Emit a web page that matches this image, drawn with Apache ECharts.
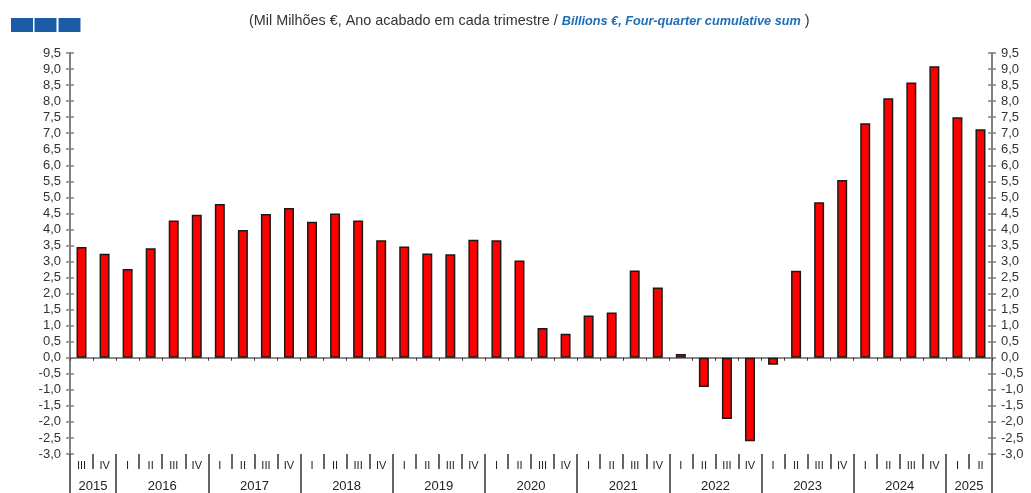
<!DOCTYPE html>
<html>
<head>
<meta charset="utf-8">
<script src="https://cdn.jsdelivr.net/npm/echarts@6/dist/echarts.min.js"></script>
<style>
  html, body { margin: 0; padding: 0; background: #fff; }
  #chart { width: 1031px; height: 493px; }
</style>
</head>
<body>
<div id="chart"></div>
<script>
// quarters from 2015 III to 2025 II
const quarters = [
  'III', 'IV',
  'I', 'II', 'III', 'IV',
  'I', 'II', 'III', 'IV',
  'I', 'II', 'III', 'IV',
  'I', 'II', 'III', 'IV',
  'I', 'II', 'III', 'IV',
  'I', 'II', 'III', 'IV',
  'I', 'II', 'III', 'IV',
  'I', 'II', 'III', 'IV',
  'I', 'II', 'III', 'IV',
  'I', 'II',
];
const years = ['2015', '2016', '2017', '2018', '2019', '2020', '2021', '2022', '2023', '2024', '2025'];
const quartersPerYear = [2, 4, 4, 4, 4, 4, 4, 4, 4, 4, 2];

// mil milhões €, soma de quatro trimestres
const values = [
  3.45, 3.24,
  2.77, 3.41, 4.28, 4.46,
  4.79, 3.98, 4.48, 4.67,
  4.24, 4.50, 4.28, 3.66,
  3.47, 3.25, 3.23, 3.68,
  3.66, 3.03, 0.93, 0.75,
  1.32, 1.41, 2.72, 2.19,
  0.12, -0.91, -1.91, -2.60,
  -0.22, 2.71, 4.85, 5.54,
  7.31, 8.09, 8.58, 9.09,
  7.50, 7.12,
];

// year axis uses quarter boundaries (41 points); label sits on the middle boundary of each year
const yearBoundaries = [0];
const yearAxisData = new Array(quarters.length + 1).fill('');
let pos = 0;
years.forEach((y, i) => {
  yearAxisData[pos + quartersPerYear[i] / 2] = y;
  pos += quartersPerYear[i];
  yearBoundaries.push(pos);
});

const axisGray = '#808080';
const font = 'Liberation Sans, Arial, sans-serif';
const fmt = (v) => v.toFixed(1).replace('.', ',');

const yBase = { type: 'value', min: -3, max: 9.5, interval: 0.5, splitLine: { show: false } };

const chart = echarts.init(document.getElementById('chart'));
chart.setOption({
  animation: false,
  title: {
    left: 244,
    top: 9,
    text: '{a|(Mil Milhões €, Ano acabado em cada trimestre / }{b|Billions €, Four-quarter cumulative sum}{a| )}',
    textStyle: {
      fontWeight: 'normal',
      rich: {
        a: { fontFamily: font, fontSize: 14.4, fontWeight: 'normal', color: '#333' },
        b: { fontFamily: font, fontSize: 12.7, color: '#1f6db5', fontWeight: 'bold', fontStyle: 'italic' },
      },
    },
  },
  graphic: [
    { type: 'rect', shape: { x: 11, y: 18, width: 22, height: 14 }, style: { fill: '#1c5ca6' } },
    { type: 'rect', shape: { x: 34.5, y: 18, width: 22, height: 14 }, style: { fill: '#1c5ca6' } },
    { type: 'rect', shape: { x: 58.5, y: 18, width: 22, height: 14 }, style: { fill: '#1c5ca6' } },
  ],
  grid: { left: 70, right: 39, top: 53, bottom: 38 },
  xAxis: [
    {
      type: 'category',
      data: quarters,
      position: 'bottom',
      axisLine: { onZero: true, lineStyle: { color: '#666', width: 1.5 } },
      axisTick: { show: true, interval: 0, length: 3, lineStyle: { color: '#333' } },
      axisLabel: { show: false },
    },
    {
      type: 'category',
      data: quarters,
      position: 'bottom',
      axisLine: { show: false, onZero: false },
      axisTick: { show: true, interval: 0, length: 15, lineStyle: { color: '#333', width: 1.5 } },
      axisLabel: { interval: 0, margin: 6, fontFamily: font, fontSize: 11, color: '#222' },
    },
    {
      type: 'category',
      data: yearAxisData,
      boundaryGap: false,
      position: 'bottom',
      axisLine: { show: false, onZero: false },
      axisTick: {
        show: true,
        interval: (i) => yearBoundaries.includes(i),
        length: 40,
        lineStyle: { color: '#333', width: 1.5 },
      },
      axisLabel: { interval: 0, margin: 26, fontFamily: font, fontSize: 13, color: '#222' },
    },
  ],
  yAxis: [
    {
      ...yBase,
      position: 'left',
      axisLine: { show: true, lineStyle: { color: axisGray, width: 2 } },
      axisTick: { show: true, length: 4, lineStyle: { color: axisGray, width: 1.5 } },
      axisLabel: { margin: 9, formatter: fmt, fontFamily: font, fontSize: 13, color: '#333' },
    },
    {
      ...yBase,
      position: 'left',
      axisLine: { show: false },
      axisTick: { show: true, inside: true, length: 4, lineStyle: { color: axisGray, width: 1.5 } },
      axisLabel: { show: false },
    },
    {
      ...yBase,
      position: 'right',
      axisLine: { show: true, lineStyle: { color: axisGray, width: 2 } },
      axisTick: { show: true, length: 4, lineStyle: { color: axisGray, width: 1.5 } },
      axisLabel: { margin: 9, formatter: fmt, fontFamily: font, fontSize: 13, color: '#333' },
    },
    {
      ...yBase,
      position: 'right',
      axisLine: { show: false },
      axisTick: { show: true, inside: true, length: 4, lineStyle: { color: axisGray, width: 1.5 } },
      axisLabel: { show: false },
    },
  ],
  series: [
    {
      type: 'bar',
      xAxisIndex: 0,
      yAxisIndex: 0,
      barWidth: 10,
      data: values,
      itemStyle: { color: '#ff0000', borderColor: '#1a1a1a', borderWidth: 1.5 },
    },
  ],
});
</script>
</body>
</html>
